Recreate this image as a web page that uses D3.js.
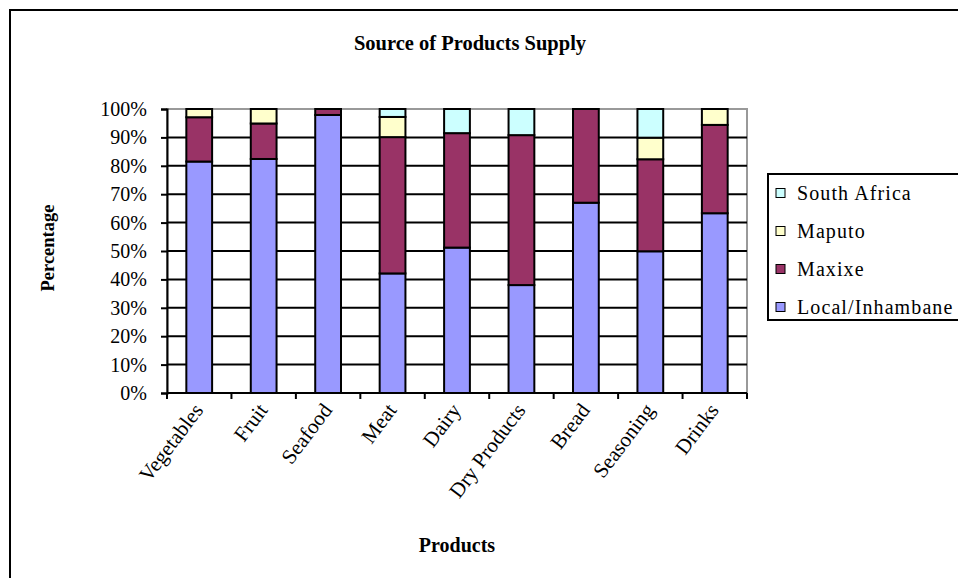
<!DOCTYPE html>
<html>
<head>
<meta charset="utf-8">
<script src="https://cdn.jsdelivr.net/npm/d3@7"></script>
<style>
  html, body { margin: 0; padding: 0; background: #fff; }
  svg { display: block; }
  text { font-family: "Liberation Serif", "Times New Roman", serif; fill: #000; }
</style>
</head>
<body>
<svg id="chart" width="958" height="578"></svg>
<script>
const categories = ["Vegetables", "Fruit", "Seafood", "Meat", "Dairy", "Dry Products", "Bread", "Seasoning", "Drinks"];
const seriesNames = ["Local/Inhambane", "Maxixe", "Maputo", "South Africa"];
const localInhambane = [81.5, 82.4, 97.9, 42.1, 51.2, 38.0, 67.0, 49.9, 63.3];
const maxixe        = [15.6, 12.5, 2.1, 48.0, 40.3, 52.8, 33.0, 32.4, 31.1];
const maputo        = [2.9, 5.1, 0, 7.1, 0, 0, 0, 7.6, 5.6];
const southAfrica   = [0, 0, 0, 2.8, 8.5, 9.2, 0, 10.1, 0];
const yTicks = [0, 10, 20, 30, 40, 50, 60, 70, 80, 90, 100];
const colors = ["#9999FF", "#993366", "#FFFFCC", "#CCFFFF"];

const rows = categories.map((c, i) => ({
  category: c,
  "Local/Inhambane": localInhambane[i],
  "Maxixe": maxixe[i],
  "Maputo": maputo[i],
  "South Africa": southAfrica[i]
}));

const svg = d3.select("#chart");
const plot = { left: 167, right: 747, top: 109, bottom: 393 };

// outer chart border
svg.append("rect").attr("x", 10).attr("y", 10).attr("width", 1000).attr("height", 600)
  .attr("fill", "#fff").attr("stroke", "#000").attr("stroke-width", 2);

const x = d3.scaleBand().domain(categories).range([plot.left, plot.right])
  .paddingInner(0.6).paddingOuter(0.3);
const y = d3.scaleLinear().domain([0, 100]).range([plot.bottom, plot.top]);

// plot area border (gray)
svg.append("rect").attr("x", plot.left).attr("y", plot.top)
  .attr("width", plot.right - plot.left).attr("height", plot.bottom - plot.top)
  .attr("fill", "#fff").attr("stroke", "#999").attr("stroke-width", 2);

// gridlines
svg.append("g").selectAll("line").data(yTicks.filter(t => t > 0 && t < 100)).join("line")
  .attr("x1", plot.left).attr("x2", plot.right)
  .attr("y1", d => y(d)).attr("y2", d => y(d))
  .attr("stroke", "#000").attr("stroke-width", 2);

// stacked bars
const stack = d3.stack().keys(seriesNames);
const stacked = stack(rows);
svg.append("g").selectAll("g").data(stacked).join("g")
  .attr("fill", (d, i) => colors[i])
  .selectAll("rect").data(d => d.filter(s => s[1] - s[0] > 0)).join("rect")
  .attr("x", d => x(d.data.category))
  .attr("width", x.bandwidth())
  .attr("y", d => y(d[1]))
  .attr("height", d => y(d[0]) - y(d[1]))
  .attr("stroke", "#000").attr("stroke-width", 2);

// y axis
const yAxis = d3.axisLeft(y).tickValues(yTicks).tickFormat(d => d + "%").tickSize(6).tickPadding(14);
const gy = svg.append("g").attr("transform", `translate(${plot.left},0)`).call(yAxis);
gy.select(".domain").attr("stroke", "#000").attr("stroke-width", 2);
gy.selectAll(".tick line").attr("stroke", "#000").attr("stroke-width", 2);
gy.selectAll(".tick text").attr("font-family", "Liberation Serif").attr("font-size", 20).attr("fill", "#000");

// x axis line + ticks at category boundaries
const boundaries = categories.map(c => x(c) - x.step() * x.paddingOuter()).concat([plot.right]);
const gx = svg.append("g");
gx.append("line").attr("x1", plot.left).attr("x2", plot.right)
  .attr("y1", plot.bottom).attr("y2", plot.bottom).attr("stroke", "#000").attr("stroke-width", 2);
gx.selectAll(".tk").data(boundaries).join("line").attr("class", "tk")
  .attr("x1", d => d).attr("x2", d => d)
  .attr("y1", plot.bottom).attr("y2", plot.bottom + 6)
  .attr("stroke", "#000").attr("stroke-width", 2);
gx.selectAll(".lbl").data(categories).join("text").attr("class", "lbl")
  .attr("transform", d => `translate(${x(d) + x.bandwidth() / 2 - 1},${plot.bottom + 13}) rotate(-53)`)
  .attr("text-anchor", "end").attr("dy", "0.35em")
  .attr("font-size", 21)
  .text(d => d);

// titles
svg.append("text").attr("x", 470).attr("y", 50).attr("text-anchor", "middle")
  .attr("font-size", 20.5).attr("font-weight", "bold").text("Source of Products Supply");
svg.append("text").attr("x", 457).attr("y", 552).attr("text-anchor", "middle")
  .attr("font-size", 20).attr("font-weight", "bold").text("Products");
svg.append("text").attr("transform", "translate(54,248) rotate(-90)").attr("text-anchor", "middle")
  .attr("font-size", 18.5).attr("font-weight", "bold").text("Percentage");

// legend
const legend = svg.append("g");
legend.append("rect").attr("x", 768).attr("y", 174).attr("width", 300).attr("height", 146)
  .attr("fill", "#fff").attr("stroke", "#000").attr("stroke-width", 2);
const legendOrder = seriesNames.slice().reverse();
const li = legend.selectAll(".li").data(legendOrder).join("g").attr("class", "li")
  .attr("transform", (d, i) => `translate(776,${193 + i * 38})`);
li.append("rect").attr("x", 0).attr("y", -4.5).attr("width", 9).attr("height", 9)
  .attr("fill", d => colors[seriesNames.indexOf(d)]).attr("stroke", "#000").attr("stroke-width", 1);
li.append("text").attr("x", 21).attr("dy", "0.35em").attr("font-size", 20)
  .attr("letter-spacing", 1.1).text(d => d);
</script>
</body>
</html>
